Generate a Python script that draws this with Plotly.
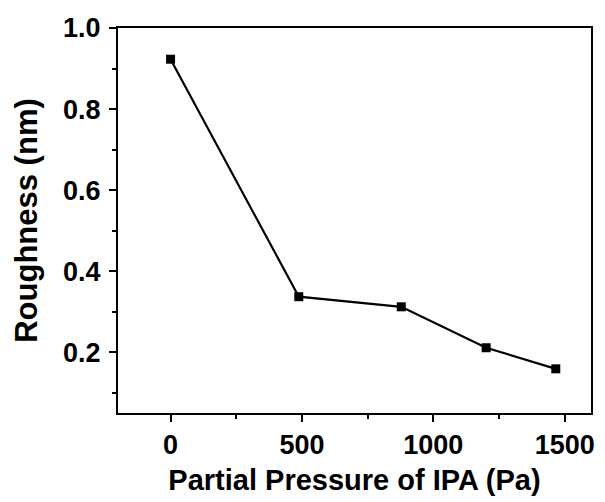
import plotly.graph_objects as go

# Partial pressure of IPA (Pa) and measured surface roughness (nm)
pressure = [0, 488, 878, 1201, 1466]
roughness = [0.923, 0.337, 0.312, 0.211, 0.159]

x_ticks = [0, 500, 1000, 1500]
y_ticks = [0.2, 0.4, 0.6, 0.8, 1.0]

font_family = "Liberation Sans, Arial, sans-serif"

fig = go.Figure(
    go.Scatter(
        x=pressure,
        y=roughness,
        mode="lines+markers",
        line=dict(color="black", width=2.2),
        marker=dict(symbol="square", size=9, color="black"),
        showlegend=False,
    )
)

axis_common = dict(
    showline=True,
    linecolor="black",
    linewidth=2,
    mirror=True,
    ticks="outside",
    ticklen=7,
    tickwidth=2,
    tickcolor="black",
    showgrid=False,
    zeroline=False,
    tickfont=dict(family=font_family, size=27, color="black"),
)

fig.update_xaxes(
    range=[-200, 1600],
    tickvals=x_ticks,
    ticktext=[f"<b>{v}</b>" for v in x_ticks],
    minor=dict(ticks="outside", ticklen=4, tickwidth=2, tickcolor="black", dtick=250, tick0=0),
    title=dict(text="<b>Partial Pressure of IPA (Pa)</b>",
               font=dict(family=font_family, size=29, color="black"), standoff=10),
    **axis_common,
)
fig.update_yaxes(
    range=[0.05, 1.0],
    tickvals=y_ticks,
    ticktext=[f"<b>{v:.1f}</b>" for v in y_ticks],
    ticklabelstandoff=3,
    minor=dict(ticks="outside", ticklen=4, tickwidth=2, tickcolor="black", dtick=0.1, tick0=0),
    title=dict(text="<b>Roughness (nm)</b>",
               font=dict(family=font_family, size=31, color="black"), standoff=16),
    **axis_common,
)

fig.update_layout(
    width=605,
    height=502,
    margin=dict(l=118, r=10, t=28, b=89),
    plot_bgcolor="white",
    paper_bgcolor="white",
)

fig.write_html("out.html")
